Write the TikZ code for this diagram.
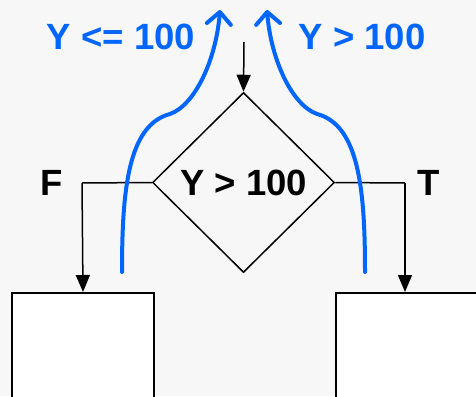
\documentclass[tikz,border=0pt]{standalone}
\usepackage{fontspec}
\setmainfont{Liberation Sans}
\usetikzlibrary{shapes.geometric,arrows.meta}
\definecolor{flowblue}{HTML}{0066FF}
\definecolor{bggray}{HTML}{F7F7F7}

\begin{document}
\begin{tikzpicture}[x=1pt,y=-1pt,
  big/.style={font=\fontsize{36.5}{40}\selectfont\bfseries},
  decision/.style={diamond,draw,line width=1.5pt,minimum width=182pt,minimum height=180pt,inner sep=0pt},
  block/.style={rectangle,draw,fill=white,line width=2pt,minimum width=142pt,minimum height=140pt,anchor=north west},
  flow/.style={line width=1.5pt,-{Triangle[length=17pt,width=14pt]}},
  route/.style={flowblue,line width=4pt,line cap=round,-{Straight Barb[length=12pt,width=24pt,round]}}]
  \fill[bggray] (0,0) rectangle (476,396);
  \useasboundingbox (0,0) rectangle (476,396);
  \clip (0,0) rectangle (476,396);

  \coordinate (entry)   at (244,42);
  \coordinate (fcorner) at (82,183);
  \coordinate (tcorner) at (405,183);
  \coordinate (lstart)  at (122,272);
  \coordinate (lknee)   at (170,114);
  \coordinate (lend)    at (220,10);
  \coordinate (rstart)  at (365,272);
  \coordinate (rknee)   at (317,114);
  \coordinate (rend)    at (267,10);

  \node[decision,big] (dec)  at (243.5,182.5) {Y > 100};
  \node[block]        (lbox) at (11,292)  {};
  \node[block]        (rbox) at (335,292) {};

  \draw[flow] (entry) -- (dec.north);
  \draw[line width=1.5pt] (dec.west) -- (fcorner);
  \draw[flow] (fcorner) -- (lbox.north);
  \draw[line width=1.5pt] (dec.east) -- (tcorner);
  \draw[flow] (tcorner) -- (tcorner |- rbox.north);

  \draw[route] (lstart) .. controls (122,190) and (128,125) .. (lknee)
               .. controls (195,105) and (216,60) .. (lend);
  \draw[route] (rstart) .. controls (365,190) and (359,125) .. (rknee)
               .. controls (292,105) and (271,60) .. (rend);

  \node[big]            (flabel) at (52,183)  {F};
  \node[big]            (tlabel) at (429,183) {T};
  \node[big,flowblue]   (lcond)  at (121,37)  {Y <= 100};
  \node[big,flowblue]   (rcond)  at (362,37)  {Y > 100};
\end{tikzpicture}
\end{document}
